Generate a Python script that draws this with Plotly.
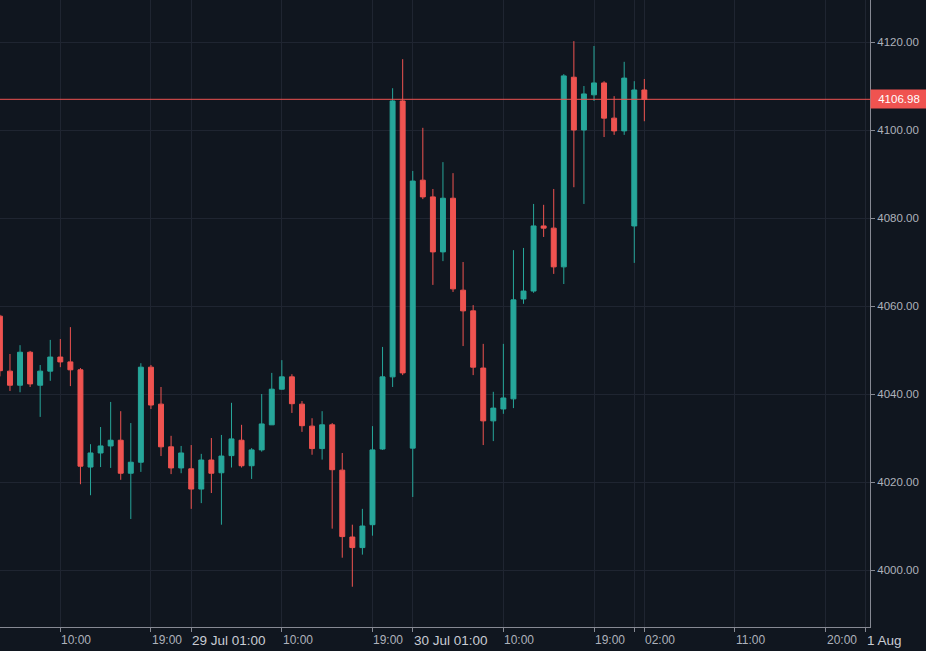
import plotly.graph_objects as go

# -------------------------------------------------------------
# Data: 1h candles, 28 Jul 04:00 -> 31 Jul 02:00 (session 01:00-22:00)
# -------------------------------------------------------------
times = [
    "28 Jul 04:00", "28 Jul 05:00", "28 Jul 06:00", "28 Jul 07:00", "28 Jul 08:00",
    "28 Jul 09:00", "28 Jul 10:00", "28 Jul 11:00", "28 Jul 12:00", "28 Jul 13:00",
    "28 Jul 14:00", "28 Jul 15:00", "28 Jul 16:00", "28 Jul 17:00", "28 Jul 18:00",
    "28 Jul 19:00", "28 Jul 20:00", "28 Jul 21:00", "28 Jul 22:00",
    "29 Jul 01:00", "29 Jul 02:00", "29 Jul 03:00", "29 Jul 04:00", "29 Jul 05:00",
    "29 Jul 06:00", "29 Jul 07:00", "29 Jul 08:00", "29 Jul 09:00", "29 Jul 10:00",
    "29 Jul 11:00", "29 Jul 12:00", "29 Jul 13:00", "29 Jul 14:00", "29 Jul 15:00",
    "29 Jul 16:00", "29 Jul 17:00", "29 Jul 18:00", "29 Jul 19:00", "29 Jul 20:00",
    "29 Jul 21:00", "29 Jul 22:00",
    "30 Jul 01:00", "30 Jul 02:00", "30 Jul 03:00", "30 Jul 04:00", "30 Jul 05:00",
    "30 Jul 06:00", "30 Jul 07:00", "30 Jul 08:00", "30 Jul 09:00", "30 Jul 10:00",
    "30 Jul 11:00", "30 Jul 12:00", "30 Jul 13:00", "30 Jul 14:00", "30 Jul 15:00",
    "30 Jul 16:00", "30 Jul 17:00", "30 Jul 18:00", "30 Jul 19:00", "30 Jul 20:00",
    "30 Jul 21:00", "30 Jul 22:00",
    "31 Jul 01:00", "31 Jul 02:00",
]

opens = [
    4057.7, 4045.2, 4042.0, 4049.5, 4042.0, 4045.2, 4048.4, 4047.3, 4045.5, 4023.4,
    4026.6, 4028.2, 4029.5, 4022.0, 4024.5, 4046.1, 4037.7, 4028.0, 4023.2, 4023.0,
    4018.4, 4025.0, 4022.1, 4026.0, 4029.5, 4023.7, 4027.3, 4033.0, 4041.1, 4043.9,
    4037.7, 4032.7, 4027.6, 4033.0, 4022.7, 4007.5, 4005.1, 4010.3, 4027.5, 4043.9,
    4106.6, 4027.7, 4088.6, 4084.8, 4072.3, 4084.5, 4063.6, 4058.9, 4045.9, 4033.9,
    4036.6, 4038.9, 4061.6, 4063.4, 4078.2, 4077.7, 4068.9, 4112.0, 4100.0, 4108.0,
    4110.7, 4102.7, 4099.8, 4078.2, 4109.1,
]
highs = [
    4058.0, 4049.1, 4051.1, 4049.8, 4046.6, 4052.3, 4052.5, 4055.2, 4045.9, 4028.6,
    4032.5, 4038.2, 4036.1, 4033.4, 4047.0, 4046.6, 4041.6, 4030.5, 4028.2, 4028.4,
    4026.4, 4030.0, 4030.7, 4038.0, 4033.0, 4027.7, 4040.0, 4044.8, 4047.7, 4044.5,
    4038.4, 4034.5, 4036.1, 4033.4, 4026.6, 4010.3, 4013.9, 4032.7, 4050.7, 4109.5,
    4116.1, 4090.7, 4100.5, 4086.6, 4092.7, 4090.2, 4070.0, 4060.2, 4051.4, 4040.5,
    4051.4, 4072.7, 4073.2, 4083.2, 4083.0, 4086.6, 4112.7, 4120.2, 4110.0, 4119.1,
    4111.1, 4107.7, 4115.5, 4111.1, 4111.6,
]
lows = [
    4044.0, 4040.7, 4040.4, 4041.6, 4034.8, 4043.0, 4046.1, 4041.8, 4019.5, 4017.0,
    4023.4, 4023.2, 4020.5, 4011.6, 4022.3, 4036.6, 4025.9, 4021.8, 4022.0, 4013.9,
    4015.2, 4017.5, 4010.3, 4023.3, 4023.3, 4020.7, 4026.9, 4033.0, 4041.0, 4035.7,
    4031.4, 4026.2, 4025.1, 4009.4, 4002.8, 3996.2, 4003.5, 4007.8, 4027.3, 4041.6,
    4044.3, 4016.6, 4084.3, 4064.8, 4070.2, 4063.2, 4050.9, 4044.3, 4028.4, 4029.3,
    4035.5, 4036.8, 4060.5, 4063.0, 4075.7, 4067.3, 4065.0, 4087.0, 4083.2, 4106.6,
    4098.4, 4098.9, 4098.9, 4069.8, 4102.0,
]
closes = [
    4045.3, 4042.0, 4049.5, 4042.3, 4045.2, 4048.4, 4047.3, 4045.5, 4023.6, 4026.6,
    4028.2, 4029.5, 4022.0, 4024.5, 4046.1, 4037.5, 4028.0, 4023.2, 4026.6, 4018.4,
    4025.0, 4022.0, 4025.9, 4029.8, 4023.7, 4027.3, 4033.2, 4041.1, 4043.9, 4037.8,
    4032.8, 4027.6, 4033.0, 4022.8, 4007.6, 4005.1, 4010.0, 4027.3, 4043.9, 4106.6,
    4044.8, 4088.4, 4084.8, 4072.3, 4084.5, 4063.9, 4058.9, 4046.1, 4033.9, 4036.8,
    4039.1, 4061.4, 4063.4, 4078.2, 4077.7, 4068.9, 4112.3, 4100.0, 4108.2, 4110.7,
    4102.7, 4099.8, 4111.8, 4109.1, 4106.98,
]

# time-axis ticks (bar slots, future slots continue the hourly grid)
tick_slots = [6, 15, 19, 28, 37, 41, 50, 59, 63, 64, 73, 82, 86]
tick_labels = ["10:00", "19:00", "29 Jul 01:00", "10:00", "19:00", "30 Jul 01:00",
               "10:00", "19:00", "", "02:00", "11:00", "20:00", "1 Aug"]
tick_bold = ["29 Jul 01:00", "30 Jul 01:00", "1 Aug"]

price_ticks = [4000, 4020, 4040, 4060, 4080, 4100, 4120]

# -------------------------------------------------------------
# Style
# -------------------------------------------------------------
BG = "#10161f"
GRID = "#1f2531"
AXIS = "#868993"
TEXT = "#aeb2bb"
UP = "#26a69a"
DOWN = "#ef5350"
FONT = "Liberation Sans, Arial, sans-serif"

slots = list(range(len(times)))

fig = go.Figure()
fig.add_trace(go.Candlestick(
    x=slots, open=opens, high=highs, low=lows, close=closes,
    text=times, hoverinfo="text+y",
    increasing=dict(line=dict(color=UP, width=1), fillcolor=UP),
    decreasing=dict(line=dict(color=DOWN, width=1), fillcolor=DOWN),
    whiskerwidth=0,
))

# last price line + label
last = closes[-1]
fig.add_hline(y=last, line=dict(color=DOWN, width=1))
fig.add_annotation(
    x=1, xref="paper", y=last, yref="y", xanchor="left", yanchor="middle",
    text=f"{last:.2f}", showarrow=False, bgcolor=DOWN, width=56, height=18,
    borderpad=0, font=dict(color="#ffffff", size=11.5, family=FONT),
)

# time labels sit to the right of their tick
for s, lab in zip(tick_slots, tick_labels):
    if not lab:
        continue
    big = lab in tick_bold
    fig.add_annotation(
        x=s, xref="x", y=0, yref="paper", xanchor="left", yanchor="top",
        yshift=-4, xshift=-1, text=lab, showarrow=False,
        font=dict(color="#c9ccd4" if big else TEXT, size=13.5 if big else 12, family=FONT),
    )

fig.update_layout(
    width=926, height=651,
    margin=dict(l=0, r=56, t=0, b=24),
    paper_bgcolor=BG, plot_bgcolor=BG,
    showlegend=False,
    font=dict(family=FONT, color=TEXT, size=11),
)
fig.update_xaxes(
    range=[0.01, 86.41], rangeslider_visible=False,
    tickmode="array", tickvals=tick_slots, showticklabels=False,
    ticks="outside", ticklen=4, tickcolor=AXIS,
    showgrid=True, gridcolor=GRID, gridwidth=1, zeroline=False,
    showline=True, linecolor=AXIS, linewidth=1,
)
fig.update_yaxes(
    side="right", range=[3987.05, 4129.55],
    tickmode="array", tickvals=price_ticks, tickformat=".2f",
    ticks="outside", ticklen=4, tickcolor=AXIS,
    tickfont=dict(size=11.5, color=TEXT),
    showgrid=True, gridcolor=GRID, gridwidth=1, zeroline=False,
    showline=True, linecolor=AXIS, linewidth=1,
)

# page body has a default 8px margin; drop it so the chart fills the window
fig.write_html("out.html", config={"displayModeBar": False},
               post_script="document.body.style.margin='0';")
